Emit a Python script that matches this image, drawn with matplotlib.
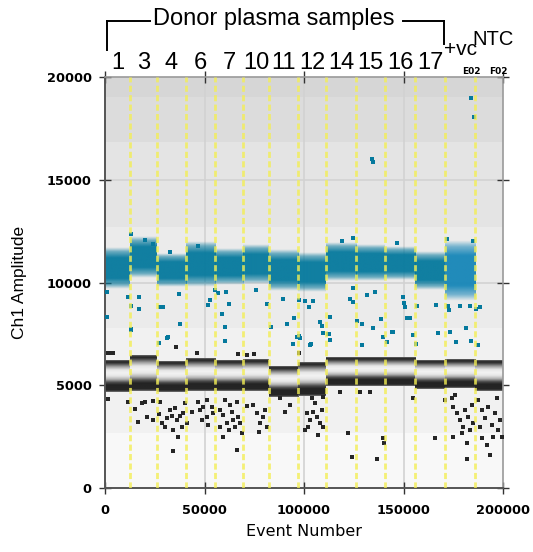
import numpy as np
import matplotlib
matplotlib.use("Agg")
import matplotlib.pyplot as plt
from matplotlib.transforms import blended_transform_factory
from matplotlib.colors import to_rgb

# ---------------- data ----------------
well_labels = ['1', '3', '4', '6', '7', '10', '11', '12', '14', '15', '16', '17', '+vc', 'NTC']
well_ids = ['', '', '', '', '', '', '', '', '', '', '', '', 'E02', 'F02']
well_edges = [0, 12560, 25980, 40700, 55280, 69500, 82400, 97130, 111050,
              126130, 140700, 155780, 170850, 185930, 200000]

# negative droplet band (dense), amplitude limits per well
neg_low = [4650, 4700, 4650, 4700, 4700, 4720, 4450, 4480, 4950, 4950, 4950, 4800, 4880, 4720]
neg_high = [6200, 6420, 6150, 6280, 6200, 6250, 5950, 6100, 6350, 6350, 6330, 6200, 6270, 6200]

# positive droplet band (dense), amplitude limits per well (NTC has none)
pos_low = [9700, 10200, 9800, 9800, 9900, 9950, 9600, 9550, 10050, 10050, 10100, 9650, 9100, np.nan]
pos_high = [11700, 12200, 11450, 12000, 11700, 11850, 11600, 11450, 11900, 11850, 11750, 11500, 12050, np.nan]

# scattered positive droplets (event number, amplitude)
pos_rain_x = [850, 11400, 17200, 12900, 17200, 27600, 29300, 37300, 37700, 31800, 1200, 12900,
              52800, 51900, 55300, 56900, 60800, 62500, 58600, 60300, 75900, 81300, 83400, 89600,
              95000, 97600, 100700, 102700, 104700, 91300, 97300,
              12900, 20100, 24300, 32700, 46900,
              123100, 124800, 131500, 135700, 149900, 150200, 150700, 124800, 113100, 108000,
              108900, 126800, 129000, 138700, 134800, 144100, 153300, 151600, 156600, 166300,
              172500, 173000, 178400, 183400, 186400, 188400, 167500, 173400, 181300, 112200, 154600,
              118900, 124800, 146600, 171700, 185100,
              12900, 31300, 27300, 60500, 94300, 96300, 98000, 103000, 109700, 112700, 113100,
              103400, 129100, 139500, 141900, 156300, 176400, 183800, 187600, 144600,
              134200, 134700, 183900, 185400]
pos_rain_y = [9552, 9309, 9280, 8856, 8710, 8793, 8793, 9425, 7980, 7333, 8306, 7722,
              9148, 8905, 9635, 9503, 9552, 8953, 8452, 7820, 9635, 8953, 7820, 9182,
              8257, 9148, 9114, 8793, 9114, 7980, 7396,
              12345, 12068, 11873, 11498, 11776,
              9182, 9717, 9391, 9552, 9280, 8988, 8793, 9066, 8335, 8092,
              7883, 8140, 7980, 8237, 7771, 7606, 8257, 8257, 8856, 8905,
              8856, 8661, 8856, 8856, 8696, 8793, 7557, 7606, 7771, 7479, 7445,
              12034, 12151, 11907, 12116, 12034,
              7688, 7314, 7041, 7139, 7007, 7363, 7284, 6973, 7557, 7494, 7202,
              6993, 6944, 7363, 7119, 6993, 7090, 7168, 6944, 7606,
              16010, 15850, 18980, 18050]

# scattered negative droplets (event number, amplitude)
neg_rain_x = [1700, 11700, 15100, 16700, 18400, 20100, 21000, 24300, 24300, 27600, 27300,
              28500, 30200, 31000, 32700, 33500, 34300, 35200, 36300, 37700, 38500, 36800,
              39300, 40200, 41100, 34300, 46100, 35700, 43600, 46900, 47700, 49400, 51100,
              48600, 51900, 53600, 54400, 51100, 57800, 59400, 60300, 61200, 62500, 63700,
              64500, 65300, 66200, 67000, 67800, 68700, 59400, 66500, 57800, 62800, 67000,
              71200, 74500, 76200, 77900, 79500, 80400, 81300, 77500, 75000, 71200, 97600,
              87900, 93000, 90500,
              101400, 103000, 104700, 102200, 106400, 108000, 108900, 109700, 107200, 105500,
              100500, 109700, 103900,
              122300, 124000, 118100, 128100, 139800, 140200, 136800, 133200, 154900, 165800, 170900,
              174200, 175000, 176700, 178400, 180000, 180900, 182600, 183400, 184300, 185100,
              181800, 174700, 182100, 179200, 175900,
              187600, 189300, 191000, 192600, 194300, 196000, 197600, 198500, 193500, 189300,
              191800, 195100, 196800, 199300, 188400,
              1500, 4000, 3000]
neg_rain_y = [4331, 4199, 3844, 3226, 4121, 4199, 3440, 4233, 3309, 4199, 3601,
              3148, 2983, 3392, 3795, 3504, 2822, 3878, 3309, 3504, 2983, 2496,
              3635, 4121, 3148, 1815, 6584, 6846, 3713, 4199, 3795, 3956, 3469,
              3309, 3066, 3956, 3635, 4282, 3795, 3552, 4282, 3148, 2822, 3713,
              3309, 2983, 4199, 3469, 3148, 2662, 2496, 1849, 2983, 4039, 6506,
              3990, 4039, 3635, 3148, 3440, 3795, 2983, 2740, 6506, 6472, 6555,
              4379, 4039, 3698,
              3635, 3309, 3713, 2983, 3469, 3148, 3795, 2983, 2579, 4121,
              2822, 4443, 4365,
              2691, 1523, 4686, 4686, 2418, 2175, 1426, 4686, 4365, 2418, 4282,
              4365, 3956, 3635, 3309, 2983, 3795, 3469, 2822, 4039, 3148,
              2175, 2496, 1397, 2662, 4525,
              4282, 3795, 3392, 3956, 3066, 3635, 2822, 3309, 1606, 2418,
              2092, 2496, 4365, 2496, 2983,
              6560, 6560, 6560]

x_ticks = [0, 50000, 100000, 150000, 200000]
y_ticks = [0, 5000, 10000, 15000, 20000]

# ---------------- styles ----------------
W, H, DPI = 533, 552, 100
teal = '#05799d'
teal_vc = '#1686b8'
bg_bands = [(0, 2700, '#f8f8f8'), (2700, 7800, '#f1f1f1'), (7800, 12700, '#ebebeb'),
            (12700, 16850, '#e4e4e4'), (16850, 19040, '#dcdcdc'), (19040, 20000, '#d6d6d6')]
# vertical grey profile of the negative band (fraction from bottom -> grey level)
neg_prof_f = [0.0, 0.05, 0.22, 0.30, 0.40, 0.50, 0.60, 0.70, 0.80, 0.90, 0.95, 1.0]
neg_prof_g = [0.45, 0.15, 0.14, 0.30, 0.70, 0.90, 0.95, 0.90, 0.62, 0.25, 0.13, 0.40]
# alpha profile of the positive band
pos_prof_f = [0.0, 0.10, 0.25, 0.75, 0.90, 1.0]
pos_prof_a = [0.0, 0.55, 0.95, 0.95, 0.55, 0.0]

fig = plt.figure(figsize=(W / DPI, H / DPI), dpi=DPI)
fig.patch.set_facecolor('white')
ax = fig.add_axes([105 / W, 1 - 488 / H, 398 / W, 411 / H])

for lo, hi, c in bg_bands:
    ax.axhspan(lo, hi, color=c, lw=0, zorder=0)

for v in [50000, 100000, 150000]:
    ax.axvline(v, color='#d2d2d2', lw=1.2, zorder=0.5)
for v in [5000, 10000, 15000]:
    ax.axhline(v, color='#d2d2d2', lw=1.2, zorder=0.5)

edges = np.array(well_edges, dtype=float)
fgrid = np.linspace(0, 1, 80)
gray = np.interp(fgrid, neg_prof_f, neg_prof_g)
neg_img = np.repeat(gray[:, None], 2, axis=1)
alpha = np.interp(fgrid, pos_prof_f, pos_prof_a)

for i in range(len(well_labels)):
    x0, x1 = edges[i], edges[i + 1]
    ax.imshow(neg_img, extent=[x0, x1, neg_low[i], neg_high[i]], origin='lower', aspect='auto',
              cmap='gray', vmin=0, vmax=1, interpolation='bilinear', zorder=2)
    if not np.isnan(pos_low[i]):
        c = to_rgb(teal_vc if well_labels[i] == '+vc' else teal)
        rgba = np.zeros((80, 2, 4))
        rgba[..., :3] = c
        rgba[..., 3] = alpha[:, None]
        ax.imshow(rgba, extent=[x0, x1, pos_low[i], pos_high[i]], origin='lower', aspect='auto',
                  interpolation='bilinear', zorder=2)

# rain droplets
ax.scatter(neg_rain_x, neg_rain_y, s=12, color='#262626', marker='s', lw=0, zorder=3)
ax.scatter(pos_rain_x, pos_rain_y, s=12, color=teal, marker='s', lw=0, zorder=3)

# yellow well separators
for e in well_edges[1:-1]:
    ax.axvline(e, color='#f3ee55', lw=2.0, ls=(0, (2.2, 1.2)), alpha=0.8, zorder=4)

ax.set_xlim(0, 200000)
ax.set_ylim(0, 20000)

# axes styling
ax.set_xticks(x_ticks)
ax.set_yticks(y_ticks)
ax.set_xticklabels([str(v) for v in x_ticks], fontsize=9.3, fontweight='bold', family='DejaVu Sans')
ax.set_yticklabels([str(v) for v in y_ticks], fontsize=9.3, fontweight='bold', family='DejaVu Sans')
ax.tick_params(axis='both', direction='inout', length=9, width=1, color='#333333')
ax.tick_params(axis='x', pad=7)
ax.tick_params(axis='y', pad=5)
ax.tick_params(top=True, right=True, labeltop=False, labelright=False)
for side in ['left', 'bottom']:
    ax.spines[side].set_color('#555555')
    ax.spines[side].set_linewidth(1.4)
for side in ['top', 'right']:
    ax.spines[side].set_color('#9a9a9a')
    ax.spines[side].set_linewidth(1.2)

ax.set_xlabel('Event Number', fontsize=11.5, family='DejaVu Sans', labelpad=5)
ax.set_ylabel('Ch1 Amplitude', fontsize=12.5, family='Liberation Sans', labelpad=14)

# well labels
trans = blended_transform_factory(ax.transData, ax.transAxes)
centers = (edges[:-1] + edges[1:]) / 2
for i in range(12):
    ax.text(centers[i], 1 + 8.5 / 411, well_labels[i], transform=trans, ha='center', va='baseline',
            fontsize=17, family='Liberation Sans')
ax.text(170400, 1 + 22 / 411, well_labels[12], transform=trans, ha='left', va='baseline',
        fontsize=15, family='Liberation Sans')
ax.text(184700, 1 + 32 / 411, well_labels[13], transform=trans, ha='left', va='baseline',
        fontsize=14.5, family='Liberation Sans')
ax.text(184000, 1 + 5.5 / 411, well_ids[12], transform=trans, ha='center', va='center',
        fontsize=6.5, fontweight='bold', family='DejaVu Sans')
ax.text(197500, 1 + 5.5 / 411, well_ids[13], transform=trans, ha='center', va='center',
        fontsize=6.5, fontweight='bold', family='DejaVu Sans')

# bracket and title
fig.text(274 / W, 1 - 25 / H, 'Donor plasma samples', ha='center', va='baseline',
         fontsize=17, family='Liberation Sans')
lw_b = 1.4
fig.add_artist(plt.Line2D([107 / W, 107 / W], [1 - 50 / H, 1 - 20.7 / H], color='black', lw=lw_b))
fig.add_artist(plt.Line2D([107 / W, 150 / W], [1 - 20.7 / H, 1 - 20.7 / H], color='black', lw=lw_b))
fig.add_artist(plt.Line2D([403 / W, 443.5 / W], [1 - 20.7 / H, 1 - 20.7 / H], color='black', lw=lw_b))
fig.add_artist(plt.Line2D([443.5 / W, 443.5 / W], [1 - 44 / H, 1 - 20.7 / H], color='black', lw=lw_b))

fig.savefig('out.png', dpi=DPI)
